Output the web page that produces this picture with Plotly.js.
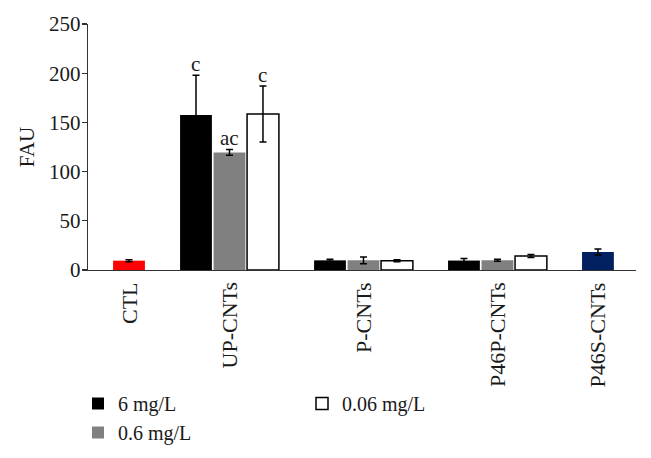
<!DOCTYPE html>
<html>
<head>
<meta charset="utf-8">
<script src="https://cdn.plot.ly/plotly-3.0.1.min.js"></script>
<style>
  html, body { margin: 0; padding: 0; background: #fff; }
  #chart { width: 651px; height: 458px; }
</style>
</head>
<body>
<div id="chart"></div>
<script>
// groups on the x axis
const categories = ["CTL", "UP-CNTs", "P-CNTs", "P46P-CNTs", "P46S-CNTs"];

// FAU per concentration
const dose6 = [null, 157.5, 9.8, 9.6, null];
const dose06 = [null, 119.5, 9.8, 10, null];
const dose006 = [null, 158.5, 9.5, 14.2, null];
const err6 = [null, 40.5, 1, 2, null];
const err06 = [null, 3, 3.5, 1, null];
const err006 = [null, 28.5, 1, 1.5, null];

// single-bar groups
const ctlCat = ["CTL"], ctlVal = [9.5], ctlErr = [1];
const p46sCat = ["P46S-CNTs"], p46sVal = [18.3], p46sErr = [3];

const sig6 = ["", "c", "", "", ""];
const sig06 = ["", "ac", "", "", ""];
const sig006 = ["", "c", "", "", ""];

const seriesNames = ["6 mg/L", "0.6 mg/L", "0.06 mg/L"];
const yTicks = [0, 50, 100, 150, 200, 250];

const FONT = "Liberation Serif, Times New Roman, serif";
const INK = "#1a1a1a";

// layout numbers
const W = 651, H = 458;
const margin = { l: 88, r: 15, t: 24, b: 188, pad: 0, autoexpand: false };
const xRange = [-0.056, 4.034];
const bargap = 0.25;
const plotW = W - margin.l - margin.r;
const plotH = H - margin.t - margin.b;
const slotPx = plotW / (xRange[1] - xRange[0]) * (1 - bargap) / 3;

function errBar(arr) {
  return { type: "data", array: arr, visible: true, color: "#000", thickness: 1.5, width: 3.5 };
}

const traces = [
  {
    type: "bar", x: categories, y: dose6, name: seriesNames[0], offsetgroup: "g6",
    marker: { color: "#000", line: { width: 0 } },
    error_y: errBar(err6), legend: "legend"
  },
  {
    type: "bar", x: categories, y: dose06, name: seriesNames[1], offsetgroup: "g06",
    marker: { color: "#808080", line: { width: 0 } },
    error_y: errBar(err06), legend: "legend"
  },
  {
    type: "bar", x: categories, y: dose006, name: seriesNames[2], offsetgroup: "g006",
    marker: { color: "#fff", line: { color: "#000", width: 1.5 } },
    error_y: errBar(err006), legend: "legend2"
  },
  {
    type: "bar", x: ctlCat, y: ctlVal, name: "CTL", offsetgroup: "g006", showlegend: false,
    marker: { color: "#ff0000", line: { width: 0 } },
    error_y: errBar(ctlErr)
  },
  {
    type: "bar", x: p46sCat, y: p46sVal, name: "P46S-CNTs", offsetgroup: "g6", showlegend: false,
    marker: { color: "#002060", line: { width: 0 } },
    error_y: errBar(p46sErr)
  }
];

// significance letters above the error bars
const annotations = [];
[[dose6, err6, sig6], [dose06, err06, sig06], [dose006, err006, sig006]].forEach(([vals, errs, sig], s) => {
  sig.forEach((t, i) => {
    if (!t) return;
    annotations.push({
      x: categories[i], y: vals[i] + errs[i], xref: "x", yref: "y",
      text: t, showarrow: false, yanchor: "bottom", yshift: -3,
      xshift: (s - 1) * slotPx,
      font: { family: FONT, size: 21, color: INK }
    });
  });
});

// rotated category labels under the bars
const labelShift = [slotPx, 0, 0, 0, -slotPx];
categories.forEach((c, i) => {
  annotations.push({
    x: c, y: 0, xref: "x", yref: "y",
    text: c, showarrow: false, textangle: -90,
    xanchor: "center", yanchor: "top", yshift: -10, xshift: labelShift[i],
    font: { family: FONT, size: 22, color: INK }
  });
});

const legendFont = { family: FONT, size: 20, color: INK };

const layout = {
  width: W, height: H,
  margin: margin,
  paper_bgcolor: "#fff", plot_bgcolor: "#fff",
  font: { family: FONT, size: 21, color: INK },
  barmode: "group", bargap: bargap, bargroupgap: 0.05,
  xaxis: {
    type: "category", range: xRange,
    showline: true, linecolor: "#333", linewidth: 1.3,
    ticks: "", showticklabels: false, showgrid: false, zeroline: false, fixedrange: true
  },
  yaxis: {
    range: [0, 250], tickvals: yTicks,
    showline: true, linecolor: "#333", linewidth: 1.3,
    ticks: "outside", ticklen: 5, tickwidth: 1.3, tickcolor: "#333",
    ticklabelstandoff: -3,
    showgrid: false, zeroline: false,
    tickfont: { family: FONT, size: 21, color: INK },
    title: { text: "FAU", font: { family: FONT, size: 21, color: INK }, standoff: 8 }
  },
  legend: {
    x: (78 - margin.l) / plotW, y: (H - margin.b - 384) / plotH,
    xanchor: "left", yanchor: "top",
    orientation: "v", bgcolor: "rgba(0,0,0,0)",
    font: legendFont
  },
  legend2: {
    x: (302 - margin.l) / plotW, y: (H - margin.b - 384) / plotH,
    xanchor: "left", yanchor: "top",
    orientation: "v", bgcolor: "rgba(0,0,0,0)",
    font: legendFont
  },
  showlegend: true,
  annotations: annotations
};

Plotly.newPlot("chart", traces, layout, { displayModeBar: false, staticPlot: true });
</script>
</body>
</html>
